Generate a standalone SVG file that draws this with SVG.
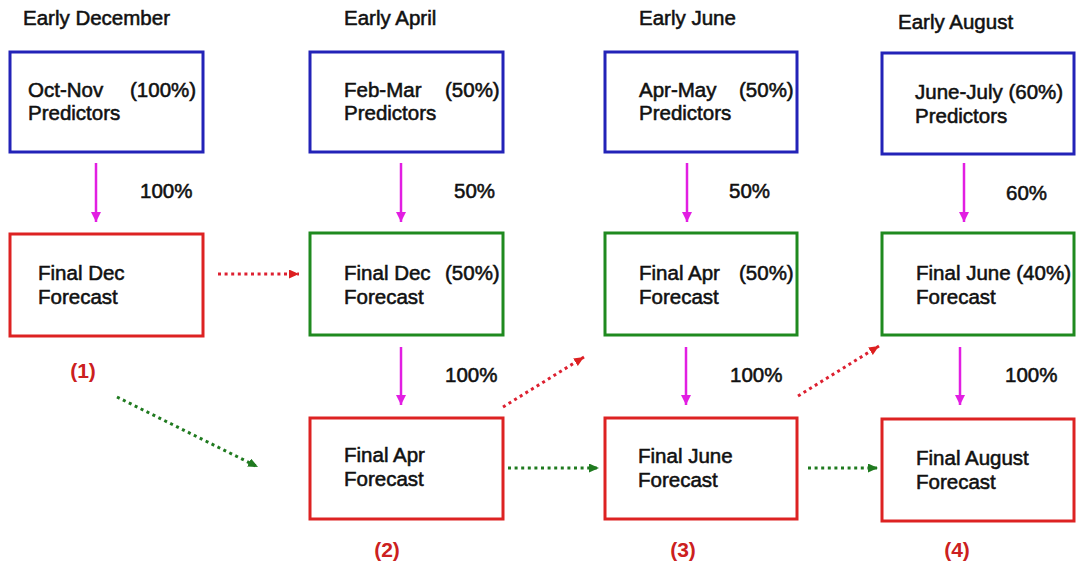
<svg xmlns="http://www.w3.org/2000/svg" width="1078" height="569" viewBox="0 0 1078 569">
<defs>
<style>
text{font-family:"Liberation Sans",Arial,sans-serif;font-size:20.5px;fill:#111;stroke:#111;stroke-width:0.55px}
.title{font-size:20.5px}
.lbl{font-weight:bold;font-size:21px;fill:#cc2020;stroke:none}
.pred{fill:#fff;stroke:#2323b8;stroke-width:3}
.mid{fill:#fff;stroke:#1f8a1f;stroke-width:3}
.fin{fill:#fff;stroke:#dd2222;stroke-width:3}
.mag{stroke:#e21ee2;stroke-width:2.5;fill:none;marker-end:url(#am)}
.rdot{stroke:#dd2030;stroke-width:3;stroke-dasharray:3 3.6;fill:none;marker-end:url(#ar)}
.gdot{stroke:#1f7a1f;stroke-width:3;stroke-dasharray:3 3.6;fill:none;marker-end:url(#ag)}
</style>
<marker id="am" markerUnits="userSpaceOnUse" markerWidth="10" markerHeight="11" refX="10" refY="5" orient="auto"><path d="M0,0 L10,5 L0,10 Z" fill="#e21ee2"/></marker>
<marker id="ar" markerUnits="userSpaceOnUse" markerWidth="10" markerHeight="10" refX="10" refY="4.5" orient="auto"><path d="M0,0 L10,4.5 L0,9 Z" fill="#dd2020"/></marker>
<marker id="ag" markerUnits="userSpaceOnUse" markerWidth="10" markerHeight="10" refX="10" refY="4.5" orient="auto"><path d="M0,0 L10,4.5 L0,9 Z" fill="#1f7a1f"/></marker>
</defs>
<rect width="1078" height="569" fill="#fff"/>

<g id="titles">
<text class="title" x="23" y="25">Early December</text>
<text class="title" x="344" y="25">Early April</text>
<text class="title" x="639" y="25">Early June</text>
<text class="title" x="898" y="29">Early August</text>
</g>

<g id="connectors">
<path class="mag" d="M96,163 V222"/>
<path class="mag" d="M401,163 V222"/>
<path class="mag" d="M687,163 V222"/>
<path class="mag" d="M964,163 V222"/>
<path class="mag" d="M401,347 V405"/>
<path class="mag" d="M686,347 V405"/>
<path class="mag" d="M960,347 V405"/>
<path class="rdot" d="M218,274 H299"/>
<path class="gdot" d="M117,397 L258,467"/>
<path class="rdot" d="M503,407 L584,357"/>
<path class="rdot" d="M798,396 L879,346"/>
<path class="gdot" d="M508,468 H599"/>
<path class="gdot" d="M808,468 H878"/>
</g>

<g id="pct">
<text x="140" y="198">100%</text>
<text x="454" y="198">50%</text>
<text x="729" y="198">50%</text>
<text x="1006" y="200">60%</text>
<text x="445" y="382">100%</text>
<text x="730" y="382">100%</text>
<text x="1005" y="382">100%</text>
</g>

<g id="n-octnov"><rect class="pred" x="10" y="52" width="193" height="100"/>
<text x="28" y="97">Oct-Nov</text><text x="130" y="97">(100%)</text><text x="28" y="120">Predictors</text></g>
<g id="n-febmar"><rect class="pred" x="310" y="52" width="193" height="100"/>
<text x="344" y="97">Feb-Mar</text><text x="445" y="97">(50%)</text><text x="344" y="120">Predictors</text></g>
<g id="n-aprmay"><rect class="pred" x="605" y="52" width="192" height="100"/>
<text x="639" y="97">Apr-May</text><text x="739" y="97">(50%)</text><text x="639" y="120">Predictors</text></g>
<g id="n-junejuly"><rect class="pred" x="882" y="53" width="192" height="101"/>
<text x="915" y="99">June-July (60%)</text><text x="915" y="123">Predictors</text></g>

<g id="n-finaldec1"><rect class="fin" x="10" y="234" width="193" height="102"/>
<text x="38" y="280">Final Dec</text><text x="38" y="304">Forecast</text></g>
<g id="n-finaldec2"><rect class="mid" x="310" y="233" width="193" height="102"/>
<text x="344" y="280">Final Dec</text><text x="445" y="280">(50%)</text><text x="344" y="304">Forecast</text></g>
<g id="n-finalapr2"><rect class="mid" x="605" y="233" width="192" height="102"/>
<text x="639" y="280">Final Apr</text><text x="739" y="280">(50%)</text><text x="639" y="304">Forecast</text></g>
<g id="n-finaljune2"><rect class="mid" x="882" y="233" width="192" height="102"/>
<text x="916" y="280">Final June (40%)</text><text x="916" y="304">Forecast</text></g>

<g id="n-finalapr"><rect class="fin" x="310" y="418" width="193" height="101"/>
<text x="344" y="462">Final Apr</text><text x="344" y="486">Forecast</text></g>
<g id="n-finaljune"><rect class="fin" x="605" y="418" width="192" height="101"/>
<text x="638" y="463">Final June</text><text x="638" y="487">Forecast</text></g>
<g id="n-finalaug"><rect class="fin" x="882" y="419" width="192" height="102"/>
<text x="916" y="465">Final August</text><text x="916" y="489">Forecast</text></g>

<g id="labels">
<text class="lbl" x="83" y="378" text-anchor="middle">(1)</text>
<text class="lbl" x="387" y="557" text-anchor="middle">(2)</text>
<text class="lbl" x="683" y="557" text-anchor="middle">(3)</text>
<text class="lbl" x="957" y="557" text-anchor="middle">(4)</text>
</g>
</svg>
